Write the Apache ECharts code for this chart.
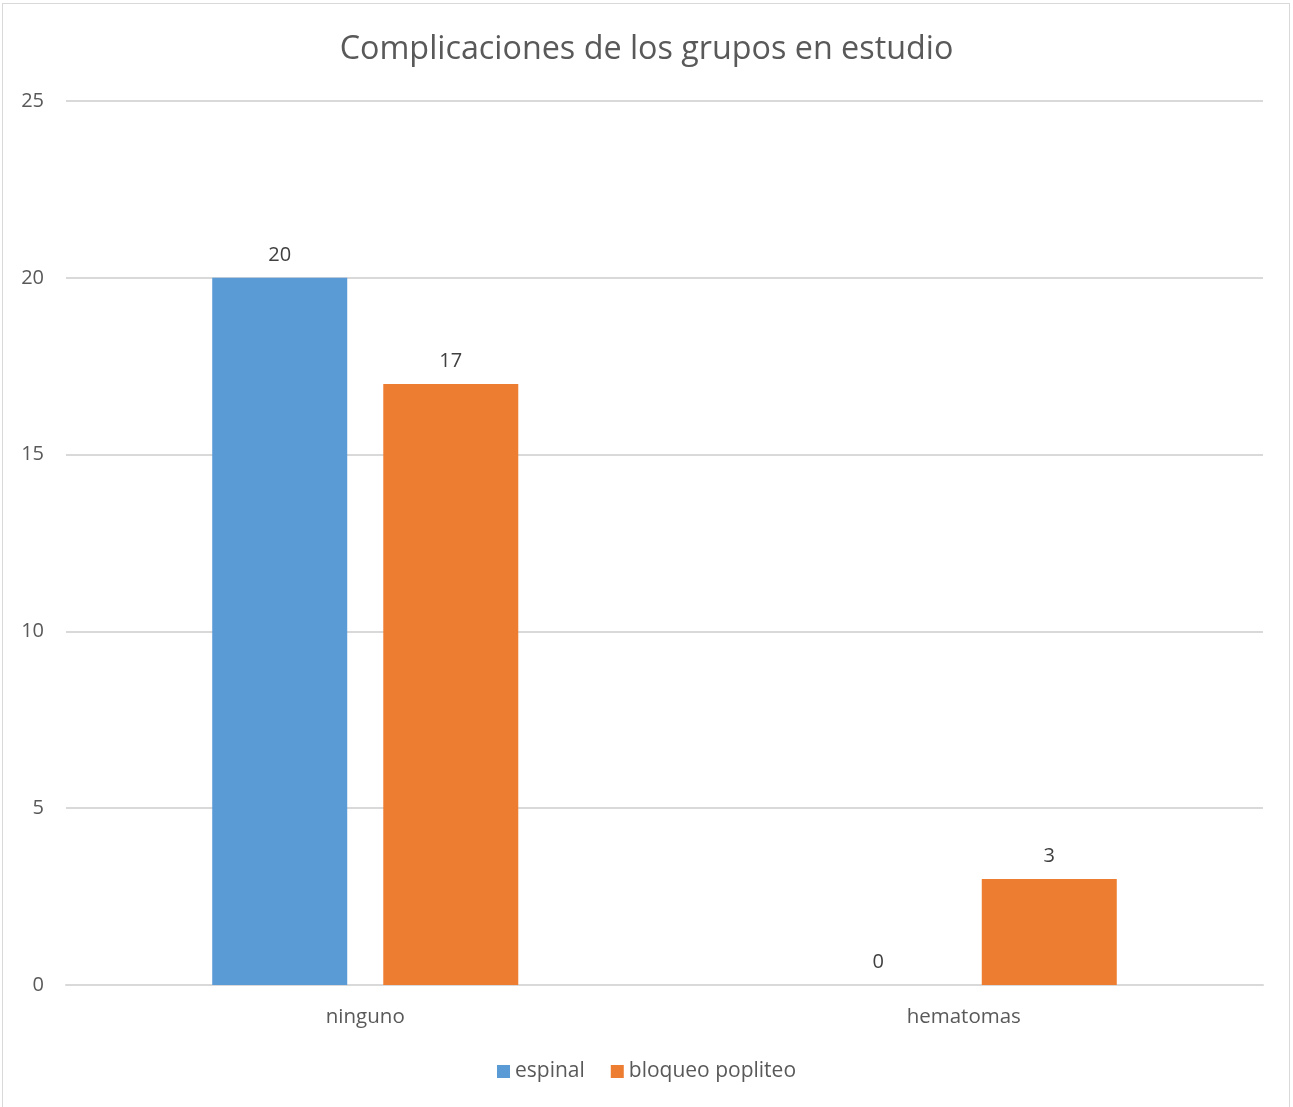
<!DOCTYPE html>
<html>
<head>
<meta charset="utf-8">
<script src="https://cdn.jsdelivr.net/npm/echarts@6/dist/echarts.min.js"></script>
<style>
html,body{margin:0;padding:0;background:#fff;}
#frame{position:absolute;left:2px;top:3px;width:1288px;height:1104px;border:1px solid #d9d9d9;border-bottom:none;box-sizing:border-box;}
#chart{position:absolute;left:0;top:0;width:1293px;height:1107px;}
</style>
</head>
<body>
<div id="frame"></div>
<div id="chart"></div>
<script>
const categories = ["ninguno", "hematomas"];
const espinal = [20, 0];
const bloqueo = [17, 3];
const seriesNames = ["espinal", "bloqueo popliteo"];
const yTicks = [0, 5, 10, 15, 20, 25];

const chart = echarts.init(document.getElementById('chart'));
const font = "'Open Sans', 'Noto Sans', sans-serif";
const labelCfg = {show: true, position: 'top', distance: 13, color: '#404040', fontSize: 20, fontFamily: font};
chart.setOption({
  animation: false,
  title: {
    text: 'Complicaciones de los grupos en estudio',
    left: 'center', top: 29,
    textStyle: {color: '#595959', fontSize: 32.3, fontWeight: 'normal', fontFamily: font}
  },
  legend: {
    bottom: 20, left: 'center',
    itemWidth: 13, itemHeight: 13, itemGap: 26,
    textStyle: {color: '#595959', fontSize: 21, fontFamily: font},
    icon: 'rect'
  },
  grid: {left: 66, right: 30, top: 101, bottom: 122, containLabel: false},
  xAxis: {
    type: 'category', data: categories,
    axisLine: {lineStyle: {color: '#d9d9d9', width: 2}},
    axisTick: {show: false},
    axisLabel: {color: '#595959', fontSize: 20.5, fontFamily: font, margin: 22}
  },
  yAxis: {
    type: 'value', min: yTicks[0], max: yTicks[yTicks.length - 1], interval: 5,
    axisLine: {show: false}, axisTick: {show: false},
    splitLine: {lineStyle: {color: '#d9d9d9', width: 2}},
    axisLabel: {color: '#595959', fontSize: 20, fontFamily: font, margin: 22}
  },
  series: [
    {name: seriesNames[0], type: 'bar', data: espinal, barWidth: 135, barGap: '26.7%',
     itemStyle: {color: '#5b9bd5'}, label: labelCfg},
    {name: seriesNames[1], type: 'bar', data: bloqueo, barWidth: 135,
     itemStyle: {color: '#ed7d31'}, label: labelCfg}
  ]
});
</script>
</body>
</html>
